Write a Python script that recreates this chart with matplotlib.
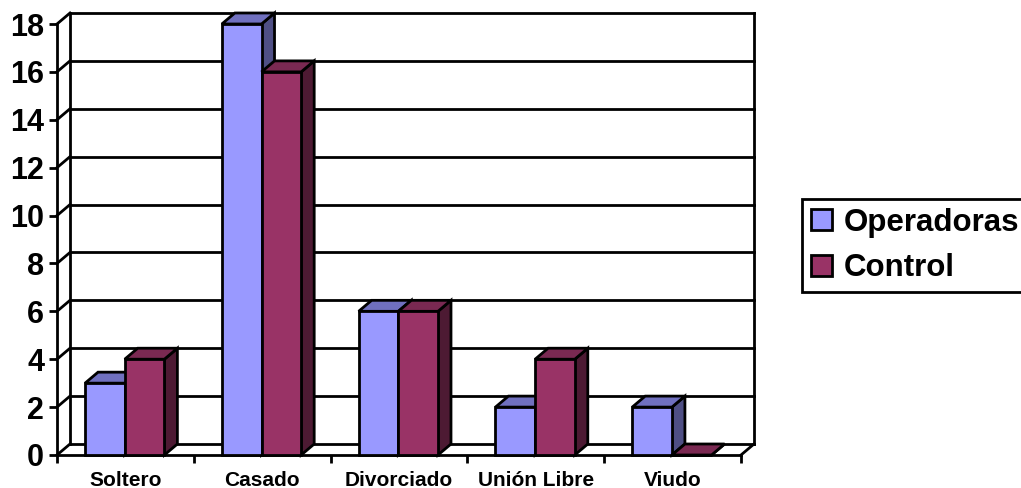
import matplotlib
matplotlib.use('Agg')
import matplotlib.pyplot as plt
from matplotlib.patches import Patch, Polygon
import numpy as np

plt.rcParams['font.family'] = ['Liberation Sans', 'DejaVu Sans']
plt.rcParams['font.weight'] = 'bold'

categories = ['Soltero', 'Casado', 'Divorciado', 'Unión Libre', 'Viudo']
operadoras = [3, 18, 6, 2, 2]
control = [4, 16, 6, 4, 0]
y_ticks = [0, 2, 4, 6, 8, 10, 12, 14, 16, 18]

W, H = 1021, 488
LW = 2.0

# plot area in pixels
left, right, top, bottom = 57, 741, 24, 455

fig = plt.figure(figsize=(W / 100, H / 100), dpi=100)
ax = fig.add_axes([left / W, 1 - bottom / H, (right - left) / W, (bottom - top) / H])
ax.set_xlim(0, len(categories))
ax.set_ylim(0, 18)

# depth of the fake 3d, in data units
dx = 13 / ((right - left) / len(categories))
dy = 11 / ((bottom - top) / 18)
bar_w = 0.29


def add_poly(pts, color, z):
    ax.add_patch(Polygon(pts, closed=True, facecolor=color, edgecolor='black',
                         linewidth=LW, clip_on=False, zorder=z, joinstyle='miter'))


def bars_3d(x0, vals, front, side, roof, z):
    for x, v in zip(x0, vals):
        add_poly([(x + bar_w, 0), (x + bar_w + dx, dy), (x + bar_w + dx, v + dy), (x + bar_w, v)], side, z)
        add_poly([(x, v), (x + dx, v + dy), (x + bar_w + dx, v + dy), (x + bar_w, v)], roof, z)
    ax.bar(x0, vals, bar_w, align='edge', color=front, edgecolor='black',
           linewidth=LW, zorder=z + 0.5, clip_on=False)


# back wall and gridlines
for v in y_ticks:
    ax.plot([dx, len(categories) + dx], [v + dy, v + dy], color='black', lw=LW, clip_on=False, zorder=1)
    ax.plot([0, dx], [v, v + dy], color='black', lw=LW, clip_on=False, zorder=1)
ax.plot([dx, dx], [dy, 18 + dy], color='black', lw=LW, clip_on=False, zorder=1)
ax.plot([len(categories) + dx] * 2, [dy, 18 + dy], color='black', lw=LW, clip_on=False, zorder=1)
ax.plot([len(categories), len(categories) + dx], [0, dy], color='black', lw=LW, clip_on=False, zorder=1)

xpos = np.arange(len(categories))
bars_3d(xpos + 0.205, operadoras, '#9999FF', '#4F4F85', '#7070BF', 3)
bars_3d(xpos + 0.495, control, '#993366', '#4D1A33', '#7A2952', 4)

for s in ['top', 'right']:
    ax.spines[s].set_visible(False)
for s in ['left', 'bottom']:
    ax.spines[s].set_linewidth(LW)
    ax.spines[s].set_zorder(2)

ax.set_yticks(y_ticks)
ax.set_xticks(np.arange(len(categories) + 1))
ax.set_xticklabels([])
ax.set_xticks(xpos + 0.5, categories, minor=True)
ax.tick_params(axis='y', length=5.8, width=LW, pad=3.5, labelsize=22)
ax.tick_params(axis='x', which='major', length=5.5, width=LW)
ax.tick_params(axis='x', which='minor', length=0, pad=11.5, labelsize=15)

handles = [Patch(facecolor='#9999FF', edgecolor='black', linewidth=LW, label='Operadoras'),
           Patch(facecolor='#993366', edgecolor='black', linewidth=LW, label='Control')]
leg = fig.legend(handles=handles, loc='upper left', bbox_to_anchor=(802 / W, 1 - 199 / H),
                 fontsize=22.5, frameon=True, fancybox=False, edgecolor='black', framealpha=1,
                 handlelength=0.68, handleheight=0.65, handletextpad=0.38, labelspacing=0.5,
                 borderaxespad=0, borderpad=0.28)
leg.get_frame().set_linewidth(LW)

fig.savefig('out.png', dpi=100)
